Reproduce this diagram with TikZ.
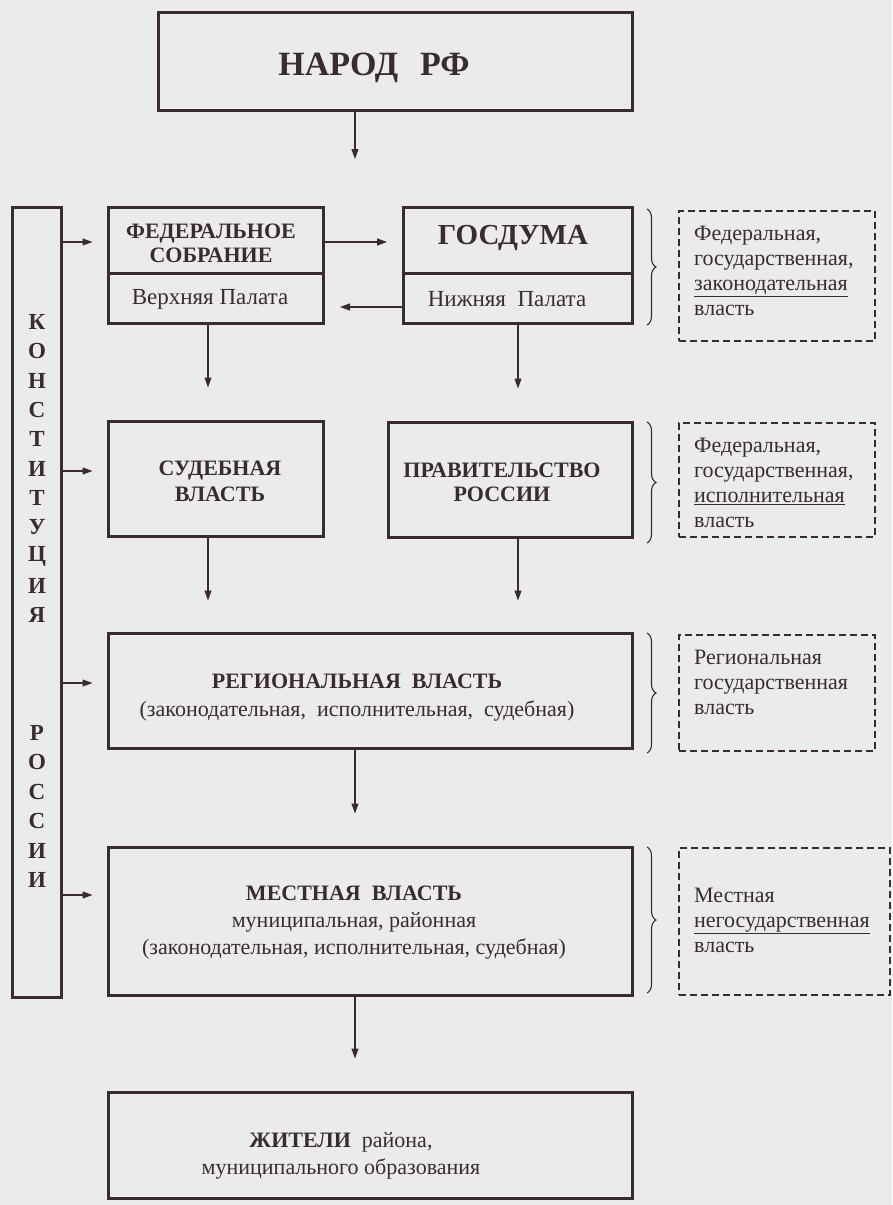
\documentclass[tikz,border=0pt]{standalone}
\usepackage{fontspec}
\setmainfont{Liberation Serif}
\usetikzlibrary{arrows.meta,decorations.pathreplacing}
\definecolor{bg}{HTML}{EBEBED}
\definecolor{ink}{HTML}{3A2C2C}
\begin{document}
\begin{tikzpicture}[x=1pt,y=-1pt,
  box/.style={draw=ink,line width=3pt,inner sep=0pt},
  dbox/.style={draw=ink,line width=1.1pt,dash pattern=on 7pt off 4pt,inner sep=0pt},
  arr/.style={draw=ink,line width=1.1pt,-{Triangle[length=10pt,width=7pt]}},
  brc/.style={draw=ink,line width=1.1pt,decorate,decoration={brace,amplitude=9pt}},
  txt/.style={text=ink,inner sep=0pt,align=center},
  ltxt/.style={text=ink,inner sep=0pt,align=left,anchor=west,font=\fontsize{22}{25}\selectfont},
  hd/.style={txt,font=\fontsize{22}{26}\selectfont\bfseries},
  rg/.style={txt,font=\fontsize{23}{26}\selectfont},
  cl/.style={text=ink,inner sep=0pt,font=\fontsize{23}{26}\selectfont\bfseries}
]
\fill[bg] (0,0) rectangle (892,1205);
\useasboundingbox (0,0) rectangle (892,1205);

% boxes
\node[box,minimum width=474pt,minimum height=98pt] (narod) at (395,61) {};
\node[box,minimum width=215pt,minimum height=116pt] (fed) at (215.5,265) {};
\node[box,minimum width=229pt,minimum height=116pt] (gos) at (517.5,265) {};
\node[box,minimum width=49pt,minimum height=790pt] (const) at (36.5,602) {};
\node[box,minimum width=215pt,minimum height=115pt] (sud) at (215.5,478.5) {};
\node[box,minimum width=244pt,minimum height=115pt] (prav) at (510,479.5) {};
\node[box,minimum width=524pt,minimum height=115pt] (reg) at (370,690.5) {};
\node[box,minimum width=524pt,minimum height=148pt] (mest) at (370,921) {};
\node[box,minimum width=524pt,minimum height=106pt] (zhit) at (370,1145) {};

\coordinate (dv) at (0,273);
\draw[ink,line width=3pt] (fed.west |- dv) -- (fed.east |- dv);
\draw[ink,line width=3pt] (gos.west |- dv) -- (gos.east |- dv);

% texts in boxes
\node[txt,font=\fontsize{34}{38}\selectfont\bfseries] (tnarod) at (374,68) {НАРОД\hspace{22pt}РФ};
\node[hd] (tfed) at (211,243) {ФЕДЕРАЛЬНОЕ\\[-2pt]СОБРАНИЕ};
\node[rg] (tverh) at (210,299) {Верхняя Палата};
\node[txt,font=\fontsize{29}{32}\selectfont\bfseries] (tgos) at (513,238) {ГОСДУМА};
\node[rg] (tnizh) at (507,299) {Нижняя\ \ Палата};
\node[hd] (tsud) at (220,481) {СУДЕБНАЯ\\ВЛАСТЬ};
\node[hd] (tprav) at (502,482) {ПРАВИТЕЛЬСТВО\\[-2pt]РОССИИ};
\node[txt,font=\fontsize{22}{28}\selectfont] (treg) at (357,698)
  {{\fontsize{22}{28}\selectfont\bfseries РЕГИОНАЛЬНАЯ\ \ ВЛАСТЬ}\\(законодательная,\ \ исполнительная,\ \ судебная)};
\node[txt,font=\fontsize{22}{27}\selectfont] (tmest) at (354,923)
  {{\fontsize{22}{27}\selectfont\bfseries МЕСТНАЯ\ \ ВЛАСТЬ}\\муниципальная, районная\\(законодательная, исполнительная, судебная)};
\node[txt,font=\fontsize{22}{27}\selectfont] (tzhit) at (341,1156)
  {{\fontsize{22}{27}\selectfont\bfseries ЖИТЕЛИ}\ \ района,\\муниципального образования};

% constitution letters
\foreach \l [count=\i] in {К,О,Н,С,Т,И,Т,У,Ц,И,Я}
  \node[cl] (k\i) at (37,{322+(\i-1)*29.3}) {\l};
\foreach \l [count=\i] in {Р,О,С,С,И,И}
  \node[cl] (r\i) at (37,{733+(\i-1)*29.4}) {\l};

% connectors
\coordinate (a0) at (355,159);
\draw[arr] (narod.south -| a0) -- (a0);
\coordinate (y1) at (0,242);
\coordinate (y2) at (0,307);
\coordinate (y3) at (0,471);
\coordinate (y4) at (0,683);
\coordinate (y5) at (0,895);
\coordinate (x1) at (208,0);
\coordinate (x2) at (518,0);
\coordinate (x3) at (355,0);
\draw[arr,shorten >=14pt] (const.east |- y1) -- (fed.west |- y1);
\draw[arr,shorten >=14pt] (const.east |- y3) -- (sud.west |- y3);
\draw[arr,shorten >=14pt] (const.east |- y4) -- (reg.west |- y4);
\draw[arr,shorten >=14pt] (const.east |- y5) -- (mest.west |- y5);
\draw[arr,shorten >=14.5pt] (fed.east |- y1) -- (gos.west |- y1);
\draw[arr,shorten >=15.5pt] (gos.west |- y2) -- (fed.east |- y2);
\draw[arr,shorten >=32pt] (fed.south -| x1) -- (sud.north -| x1);
\draw[arr,shorten >=32pt] (gos.south -| x2) -- (prav.north -| x2);
\draw[arr,shorten >=31pt] (sud.south -| x1) -- (reg.north -| x1);
\draw[arr,shorten >=31pt] (prav.south -| x2) -- (reg.north -| x2);
\draw[arr,shorten >=32pt] (reg.south -| x3) -- (mest.north -| x3);
\draw[arr,shorten >=32pt] (mest.south -| x3) -- (zhit.north -| x3);

% braces
\draw[brc] (647,209) -- (647,325);
\draw[brc] (647,422) -- (647,543);
\draw[brc] (647,633) -- (647,753);
\draw[brc] (647,847) -- (647,993);

% dashed boxes
\node[dbox,minimum width=196pt,minimum height=130pt] (d1) at (777,276) {};
\node[dbox,minimum width=196pt,minimum height=114pt] (d2) at (777,480) {};
\node[dbox,minimum width=196pt,minimum height=116pt] (d3) at (777,693) {};
\node[dbox,minimum width=211pt,minimum height=147pt] (d4) at (784.5,921.5) {};

\node[ltxt] (t1) at (694,270.5) {Федеральная,\\государственная,\\\underline{законодательная}\\власть};
\node[ltxt] (t2) at (694,482.5) {Федеральная,\\государственная,\\\underline{исполнительная}\\власть};
\node[ltxt] (t3) at (694,682.5) {Региональная\\государственная\\власть};
\node[ltxt] (t4) at (694,920) {Местная\\\underline{негосударственная}\\власть};
\end{tikzpicture}
\end{document}
